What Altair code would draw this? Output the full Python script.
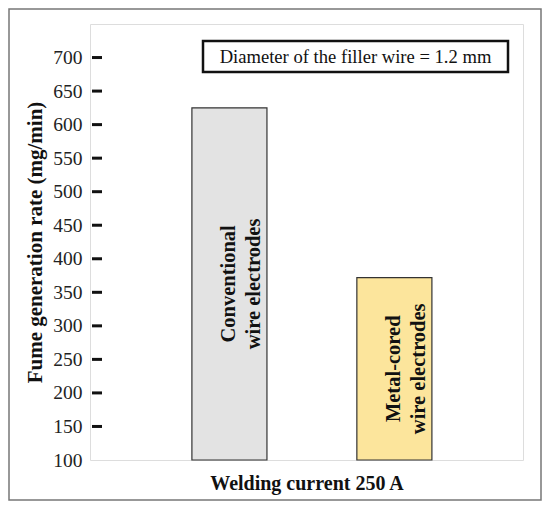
import altair as alt
import pandas as pd

# ---- data ----
categories = ["Conventional", "Metal-cored"]
bar_labels = ["Conventional\nwire electrodes", "Metal-cored\nwire electrodes"]
fume_rate = [625, 372]
bar_colors = ["#e3e3e3", "#fce59c"]
y_ticks = [100, 150, 200, 250, 300, 350, 400, 450, 500, 550, 600, 650, 700]
annotation = "Diameter of the filler wire = 1.2 mm"
x_title = "Welding current 250 A"
y_title = "Fume generation rate (mg/min)"

FONT = "Liberation Serif"

df = pd.DataFrame({
    "cat": categories,
    "label": bar_labels,
    "rate": fume_rate,
    "base": [100] * len(categories),
})
df["mid"] = (df["rate"] + df["base"]) / 2

tick_df = pd.DataFrame({"v": [t for t in y_ticks if t > 100]})

xscale = alt.Scale(paddingInner=0.545, paddingOuter=0.585, align=0.528)
yscale = alt.Scale(domain=[100, 750], zero=False, nice=False)

x_axis = alt.Axis(labels=False, ticks=False, domain=False, title=x_title,
                  titleFont=FONT, titleFontSize=20, titleFontWeight="bold",
                  titleColor="#111", titlePadding=13)
y_axis = alt.Axis(values=y_ticks, ticks=False, domain=False, grid=False,
                  labelOverlap=False,
                  labelFont=FONT, labelFontSize=19.5, labelColor="#222",
                  labelPadding=8, title=y_title, titleFont=FONT,
                  titleFontSize=21, titleFontWeight="bold", titleColor="#111",
                  titlePadding=7)

bars = alt.Chart(df).mark_bar(stroke="#333", strokeWidth=1.2).encode(
    x=alt.X("cat:N", sort=categories, scale=xscale, axis=x_axis),
    y=alt.Y("rate:Q", scale=yscale, axis=y_axis),
    y2="base:Q",
    fill=alt.Fill("cat:N", scale=alt.Scale(domain=categories, range=bar_colors), legend=None),
)

bar_text = alt.Chart(df).mark_text(
    angle=270, font=FONT, fontSize=20.5, fontWeight="bold", lineBreak="\n",
    lineHeight=25, align="center", baseline="middle", color="#111",
).encode(
    x=alt.X("cat:N", sort=categories, scale=xscale, axis=x_axis),
    y=alt.Y("mid:Q", scale=yscale, axis=y_axis),
    text="label:N",
)

ticks = alt.Chart(tick_df).mark_rule(color="#111", strokeWidth=3).encode(
    x=alt.value(2), x2=alt.value(12),
    y=alt.Y("v:Q", scale=yscale, axis=y_axis),
)

one = alt.Data(values=[{"a": 1}])

frame = alt.Chart(one).mark_rect(fill="transparent", stroke="#777", strokeWidth=1.5).encode(
    x=alt.value(-81), x2=alt.value(451), y=alt.value(-15), y2=alt.value(476),
)

box = alt.Chart(one).mark_rect(fill="white", stroke="#111", strokeWidth=2.5).encode(
    x=alt.value(113), x2=alt.value(418), y=alt.value(17), y2=alt.value(48),
)

box_text = alt.Chart(one).mark_text(
    font=FONT, fontSize=18.6, align="center", baseline="middle", color="#111",
).encode(
    x=alt.value(265.5), y=alt.value(33), text=alt.value(annotation),
)

chart = alt.layer(frame, bars, bar_text, ticks, box, box_text).properties(
    width=433, height=436,
    autosize=alt.AutoSizeParams(type="none"),
    padding={"left": 82, "top": 16, "right": 19, "bottom": 41},
).configure_view(stroke="#666", strokeWidth=1.5).configure(background="white")

chart.save("out.html", embed_options={"renderer": "svg", "actions": False})
